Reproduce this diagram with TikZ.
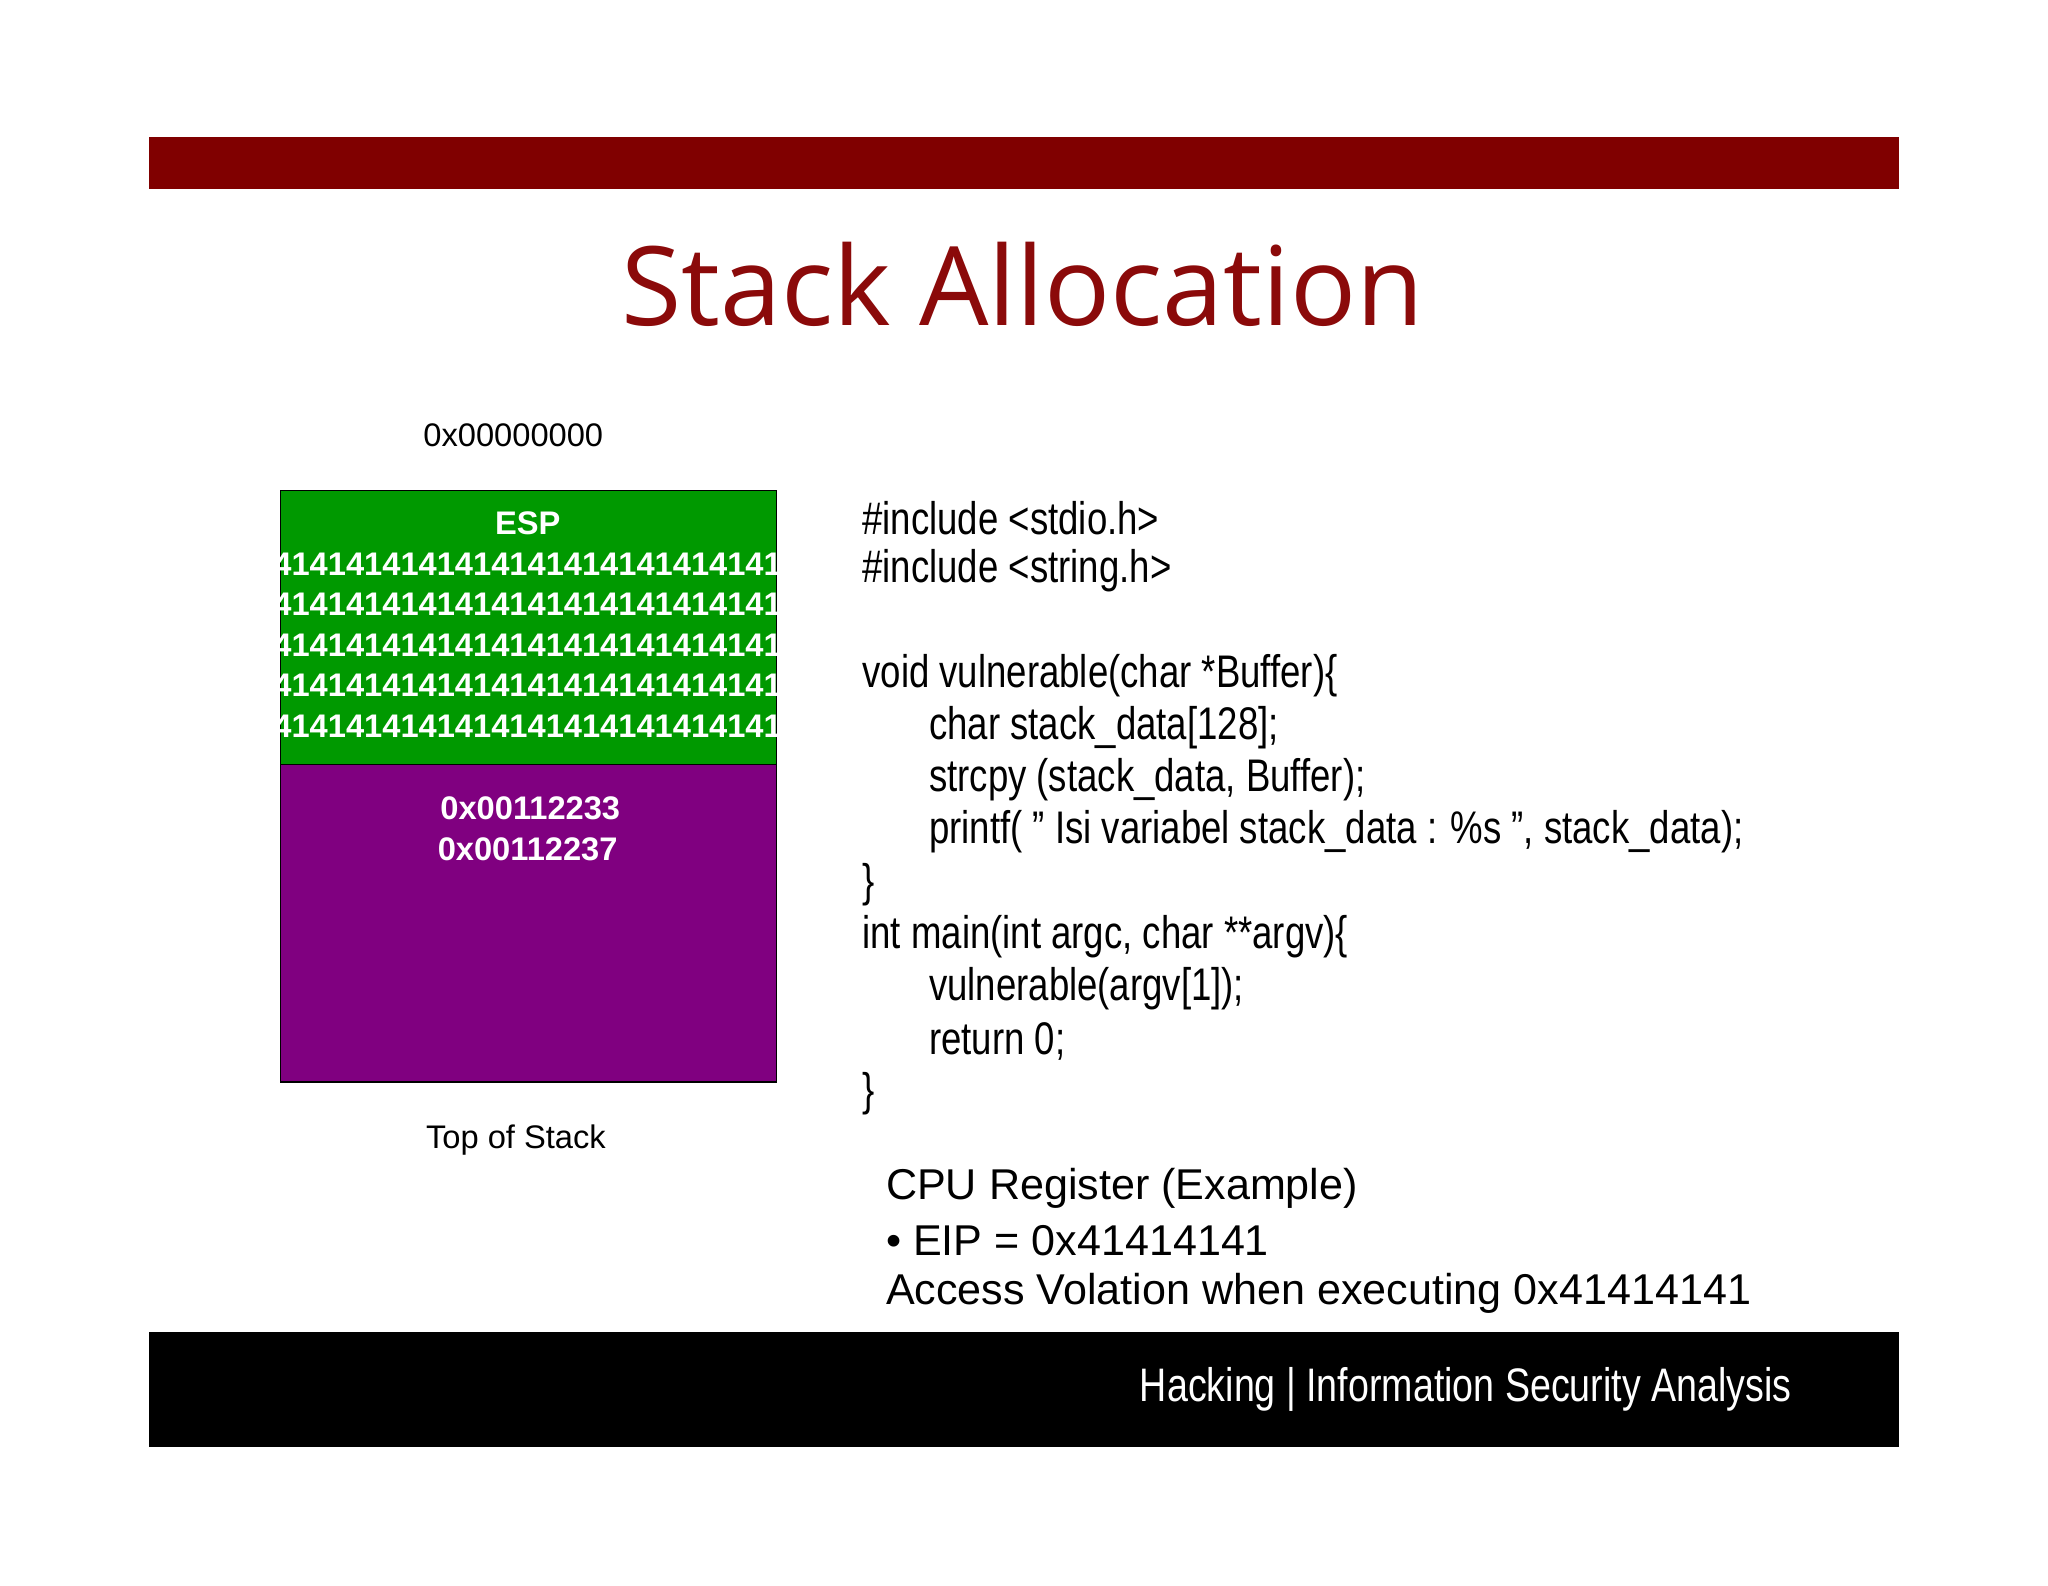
\documentclass[tikz,border=0pt]{standalone}
\usepackage{fontspec}
\setmainfont{Liberation Sans}
\newfontfamily\titlefont{Open Sans}
\begin{document}
\begin{tikzpicture}[x=0.5pt,y=-0.5pt,
  code/.style={anchor=west,inner sep=0pt,font=\fontsize{17.5}{20}\selectfont,xscale=0.8,transform shape},
  cpu/.style={anchor=west,inner sep=0pt,font=\fontsize{16.5}{20}\selectfont},
  stk/.style={inner sep=0pt,text=white,font=\fontsize{12.5}{15}\selectfont\bfseries}]
\useasboundingbox (0,0) rectangle (1568,1214);
\fill[white] (0,0) rectangle (1568,1214);
\definecolor{dred}{HTML}{800000}
\definecolor{tred}{HTML}{8B0A0A}
\definecolor{sgreen}{HTML}{009900}
\definecolor{spurple}{HTML}{800080}
\fill[dred] (114,105) rectangle (1454,145);
\node[text=tred,font=\titlefont\fontsize{42}{48}\selectfont] (title) at (783,218) {Stack Allocation};
\node[font=\fontsize{12.5}{15}\selectfont] (lo) at (393,333) {0x00000000};
\node[draw=black,fill=sgreen,minimum width=190pt,minimum height=105pt,inner sep=0pt,anchor=north west] (g) at (214,375) {};
\node[draw=black,fill=spurple,minimum width=190pt,minimum height=121.5pt,inner sep=0pt,anchor=north west] (p) at (214,585) {};
\node[stk] (esp) at (404,401) {ESP};
\foreach \y [count=\i] in {432,463,494,525,556} \node[stk] (r\i) at (404,\y) {4141414141414141414141414141};
\node[stk] (a1) at (406,619) {0x00112233};
\node[stk] (a2) at (404,650) {0x00112237};
\node[font=\fontsize{12.5}{15}\selectfont] (top) at (395,873) {Top of Stack};
\node[code] (c1) at (660,397) {\#include <stdio.h>};
\node[code] (c2) at (660,437) {\#include <string.h>};
\node[code] (c3) at (660,517) {void vulnerable(char *Buffer)\{};
\node[code] (c4) at (711,557) {char stack\_data[128];};
\node[code] (c5) at (711,597) {strcpy (stack\_data, Buffer);};
\node[code] (c6) at (711,637) {printf( " Isi variabel stack\_data : \%s ", stack\_data);};
\node[code] (c7) at (660,677) {\}};
\node[code] (c8) at (660,717) {int main(int argc, char **argv)\{};
\node[code] (c9) at (711,757) {vulnerable(argv[1]);};
\node[code] (c10) at (711,797) {return 0;};
\node[code] (c11) at (660,837) {\}};
\node[cpu] (p1) at (678,910) {CPU Register (Example)};
\node[cpu] (p2) at (678,950) {• EIP = 0x41414141};
\node[cpu] (p3) at (678,990) {Access Volation when executing 0x41414141};
\fill[black] (114,1020) rectangle (1454,1108);
\node[anchor=east,inner sep=0pt,text=white,font=\fontsize{18}{20}\selectfont,xscale=0.8,transform shape] (foot) at (1372,1064) {Hacking | Information Security Analysis};
\end{tikzpicture}
\end{document}
